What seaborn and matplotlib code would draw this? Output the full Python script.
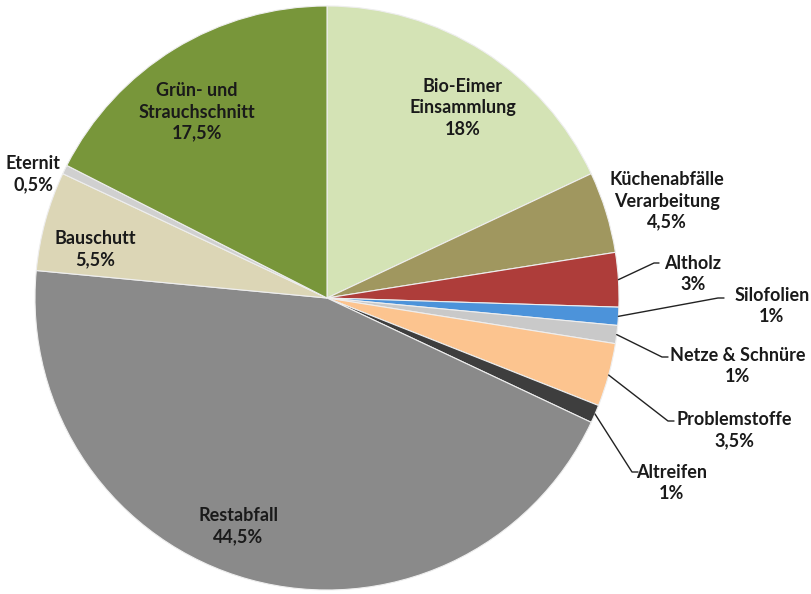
import numpy as np
import matplotlib
matplotlib.use("Agg")
import matplotlib.pyplot as plt
import seaborn as sns

# data
categories = ["Bio-Eimer\nEinsammlung", "Küchenabfälle\nVerarbeitung", "Altholz", "Silofolien",
              "Netze & Schnüre", "Problemstoffe", "Altreifen", "Restabfall", "Bauschutt",
              "Eternit", "Grün- und\nStrauchschnitt"]
shares = [18, 4.5, 3, 1, 1, 3.5, 1, 44.5, 5.5, 0.5, 17.5]
pct_labels = ["18%", "4,5%", "3%", "1%", "1%", "3,5%", "1%", "44,5%", "5,5%", "0,5%", "17,5%"]

colors = ["#D4E3B5", "#A0975F", "#AE3D3A", "#4C93DA", "#C9C9C9", "#FCC48F", "#3E3E3E",
          "#8A8A8A", "#DCD6B6", "#D0D0D0", "#78963A"]

# layout (pixel coords of the 811x594 image, y downwards)
W, H = 811, 594
center = (327, 298)
radius = 292
label_pos = [(463, 108), (667, 201), (693, 274), (772, 306), (738, 366), (734, 430),
             (672, 483), (238, 526), (95, 249), (33, 174), (197, 112)]
# leader lines: (knee point, end point) or None when the label sits inside
leaders = [None, None, ((654, 263), (659, 263)), ((718, 298), (724, 298)),
           ((662, 357), (668, 357)), ((668, 421), (674, 421)), ((632, 472), (638, 472)),
           None, None, None, None]

sns.set_theme(style="white")
plt.rcParams['font.family'] = ['Lato', 'DejaVu Sans']

fig = plt.figure(figsize=(W / 100, H / 100), dpi=100)
ax = fig.add_axes([0, 0, 1, 1])

wedges, _ = ax.pie(shares, colors=colors, startangle=-90, counterclock=True,
                   center=center, radius=radius, frame=True,
                   wedgeprops=dict(edgecolor="#eeeeee", linewidth=0.8))

ax.set_xlim(0, W)
ax.set_ylim(H, 0)
ax.set_aspect("equal")
ax.axis("off")

for w, name, pct, pos, lead in zip(wedges, categories, pct_labels, label_pos, leaders):
    ax.text(pos[0], pos[1], f"{name}\n{pct}", ha="center", va="center",
            fontsize=13, fontweight="bold", color="#1a1a1a", linespacing=1.3)
    if lead is not None:
        mid = np.deg2rad((w.theta1 + w.theta2) / 2)
        start = (center[0] + radius * np.cos(mid), center[1] + radius * np.sin(mid))
        (kx, ky), (ex, ey) = lead
        ax.plot([start[0], kx, ex], [start[1], ky, ey], color="#222222", lw=1.0)

fig.savefig("out.png", dpi=100, facecolor="white")
